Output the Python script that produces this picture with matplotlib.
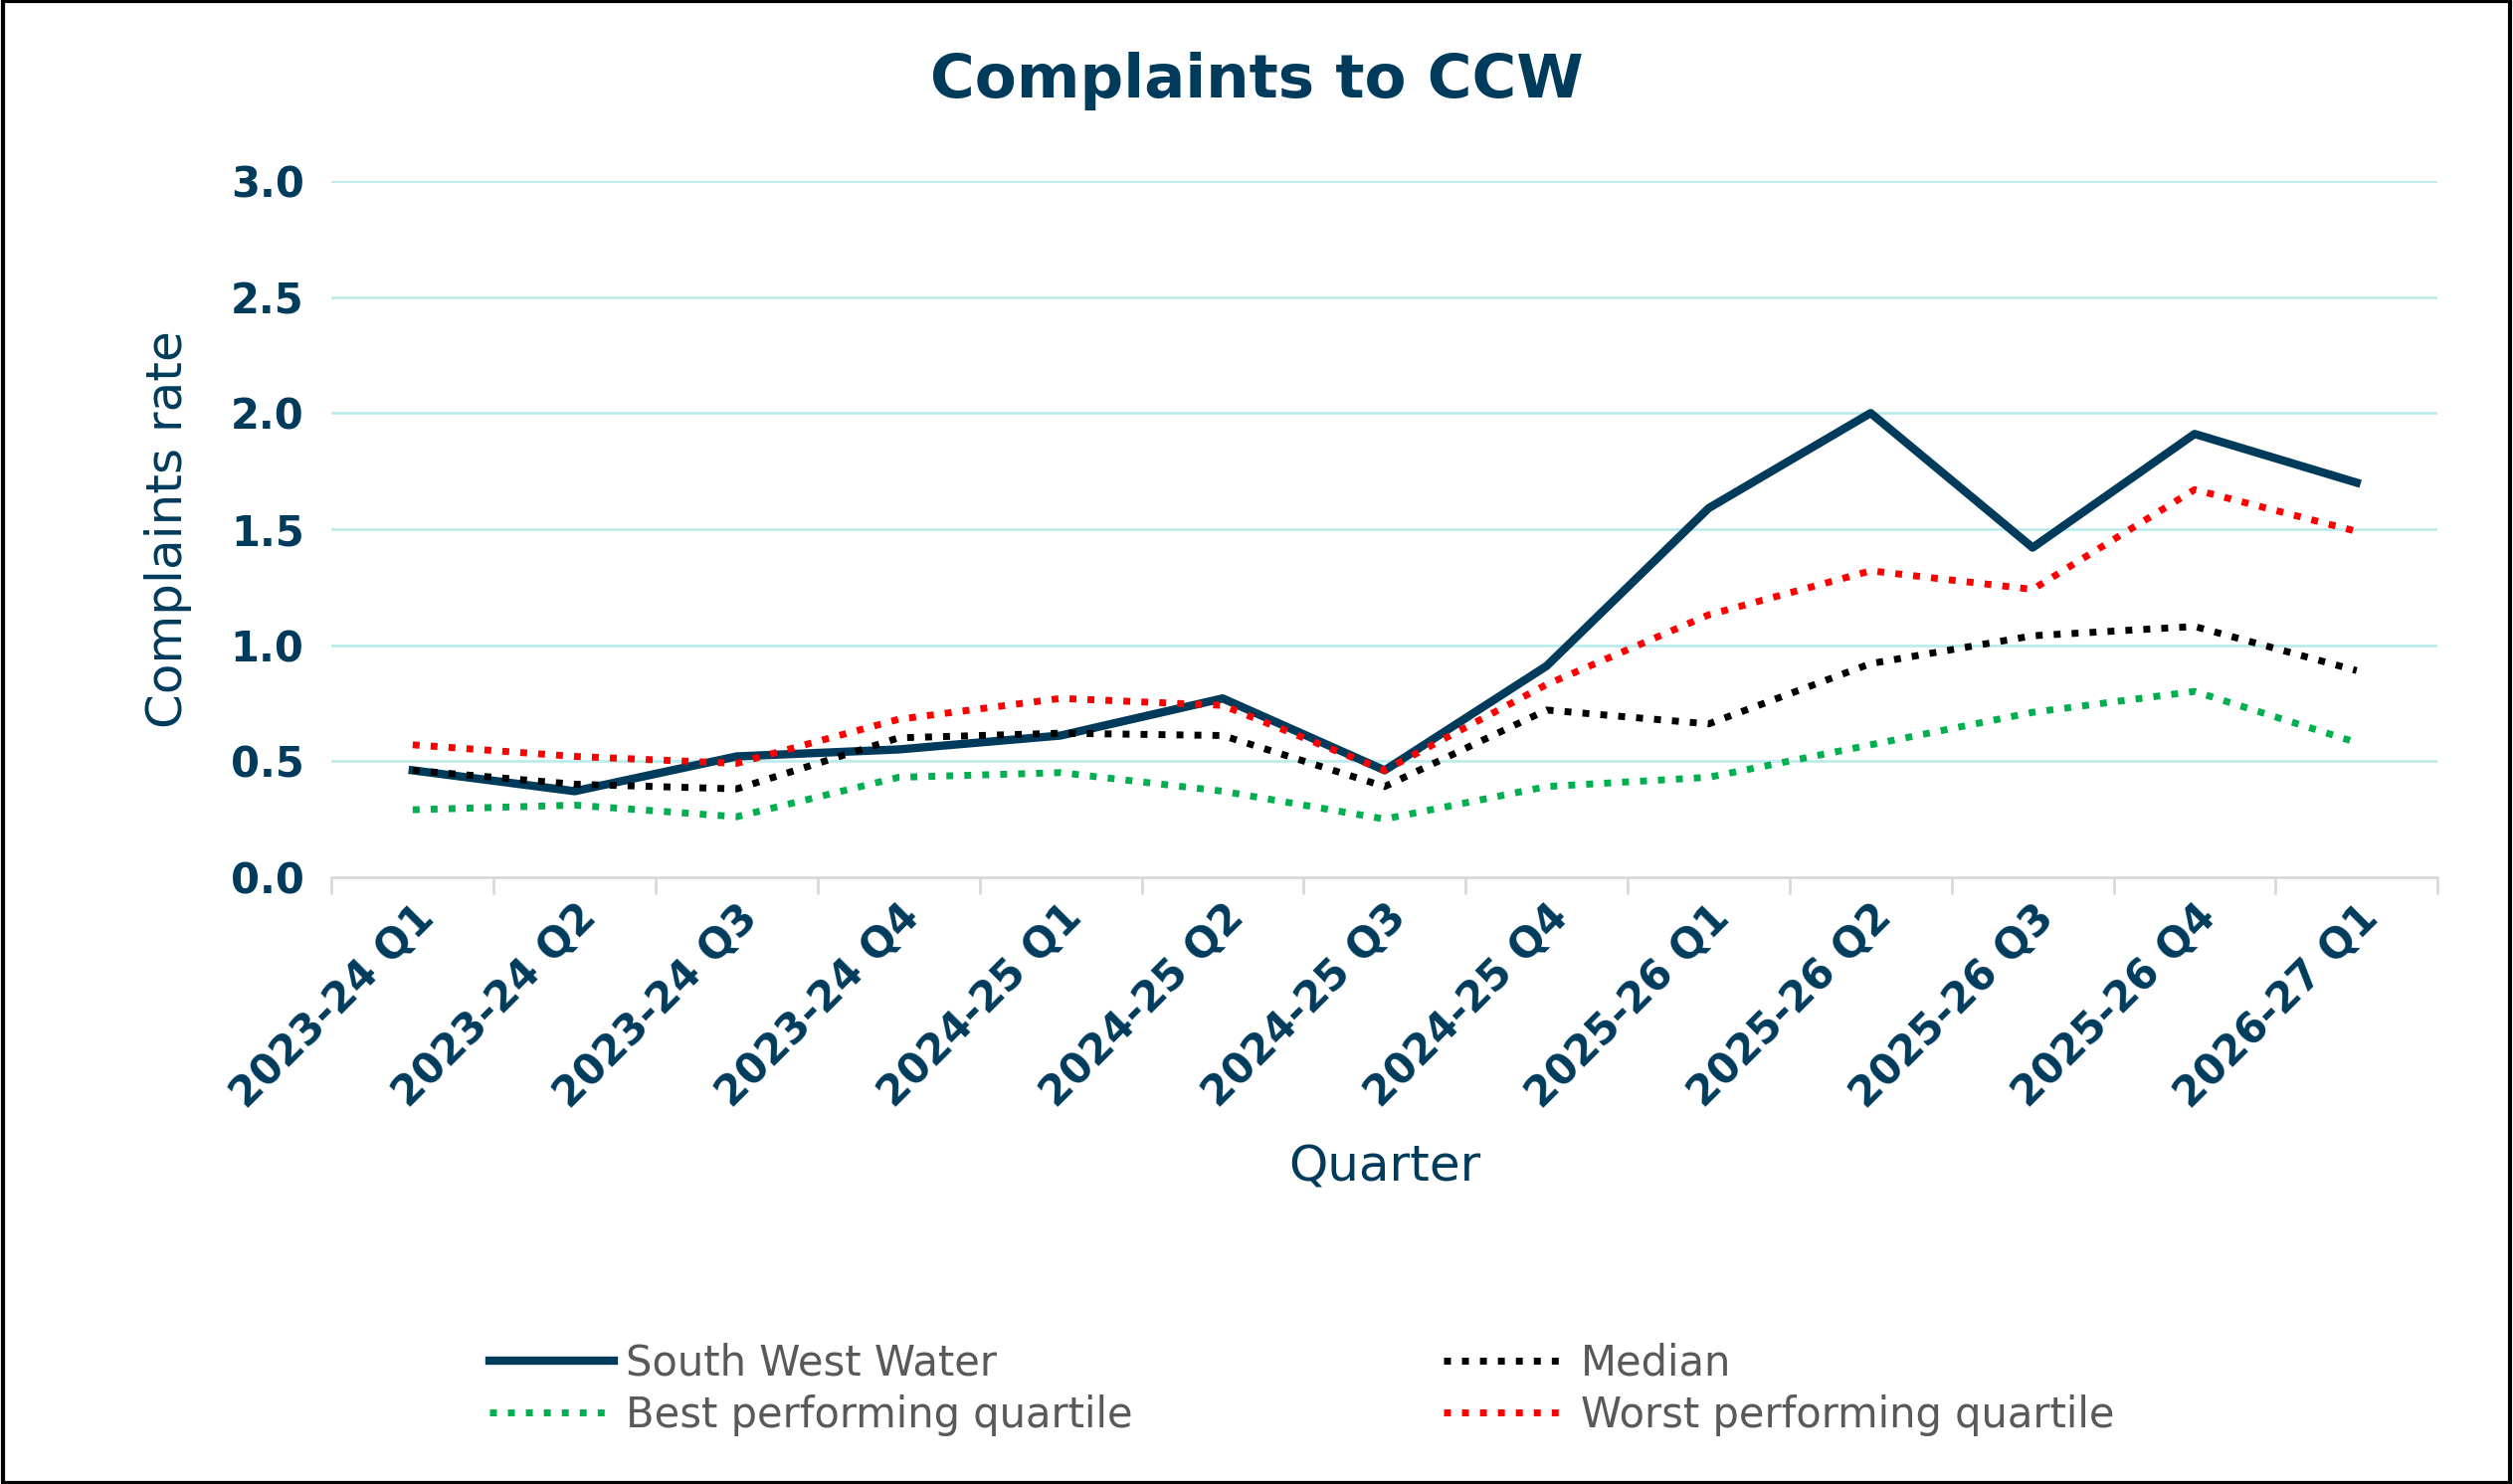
import matplotlib
matplotlib.use("Agg")
import matplotlib.pyplot as plt
import numpy as np

quarters = ["2023-24 Q1","2023-24 Q2","2023-24 Q3","2023-24 Q4","2024-25 Q1","2024-25 Q2",
            "2024-25 Q3","2024-25 Q4","2025-26 Q1","2025-26 Q2","2025-26 Q3","2025-26 Q4","2026-27 Q1"]
sww = [0.46,0.37,0.52,0.55,0.61,0.77,0.46,0.91,1.59,2.00,1.42,1.91,1.70]
median = [0.46,0.40,0.38,0.60,0.62,0.61,0.39,0.72,0.66,0.92,1.04,1.08,0.89]
best = [0.29,0.31,0.26,0.43,0.45,0.37,0.25,0.39,0.43,0.57,0.71,0.80,0.58]
worst = [0.57,0.52,0.49,0.68,0.77,0.74,0.46,0.83,1.13,1.32,1.24,1.67,1.49]
yticks = [0.0,0.5,1.0,1.5,2.0,2.5,3.0]

navy = "#003B5C"
plt.rcParams['font.family'] = ['DejaVu Sans']
fig = plt.figure(figsize=(25.26,14.92), dpi=100)
ax = fig.add_axes([0.132, 0.409, 0.838, 0.469])
x = np.arange(len(quarters))
h1, = ax.plot(x, sww, color=navy, lw=6, label="South West Water")
h2, = ax.plot(x, median, color="black", lw=5, ls=(0,(1,1.6)), label="Median")
h3, = ax.plot(x, best, color="#00B050", lw=5, ls=(0,(1,1.6)), label="Best performing quartile")
h4, = ax.plot(x, worst, color="#FF0000", lw=5, ls=(0,(1,1.6)), label="Worst performing quartile")
ax.set_xlim(-0.5, len(quarters)-0.5)
ax.set_ylim(0, 3)
ax.set_yticks(yticks)
ax.set_yticklabels([f"{v:.1f}" for v in yticks], fontsize=30, fontweight="bold", color=navy)
ax.set_xticks(x)
ax.set_xticklabels(quarters, rotation=45, ha="right", rotation_mode="anchor",
                   fontsize=30, fontweight="bold", color=navy)
ax.tick_params(axis="x", which="major", length=0, pad=14)
ax.set_xticks(np.arange(-0.5, len(quarters)), minor=True)
ax.tick_params(axis="x", which="minor", length=12, color="#D9D9D9", width=2)
ax.tick_params(axis="y", length=0, pad=20)
ax.grid(axis="y", color="#BDEBEB", lw=2)
ax.set_axisbelow(True)
for s in ["top","right","left"]:
    ax.spines[s].set_visible(False)
ax.spines["bottom"].set_color("#D9D9D9")
ax.spines["bottom"].set_linewidth(2)
ax.set_ylabel("Complaints rate", fontsize=36, color=navy, labelpad=28)
ax.set_xlabel("Quarter", fontsize=36, color=navy, labelpad=20)
fig.suptitle("Complaints to CCW", fontsize=44, fontweight="bold", color=navy, y=0.965)
fig.legend([h1, h3, h2, h4], [h.get_label() for h in [h1, h3, h2, h4]],
           loc="center", bbox_to_anchor=(0.518, 0.064), ncol=2, frameon=False,
           fontsize=30, labelcolor="#595959", handlelength=3.0, columnspacing=7.5,
           handletextpad=0.3, labelspacing=0.25)
fig.patches.append(plt.Rectangle((0.001,0.001),0.998,0.998, transform=fig.transFigure,
                                 fill=False, edgecolor="black", lw=3))
fig.savefig("out.png", dpi=100)
